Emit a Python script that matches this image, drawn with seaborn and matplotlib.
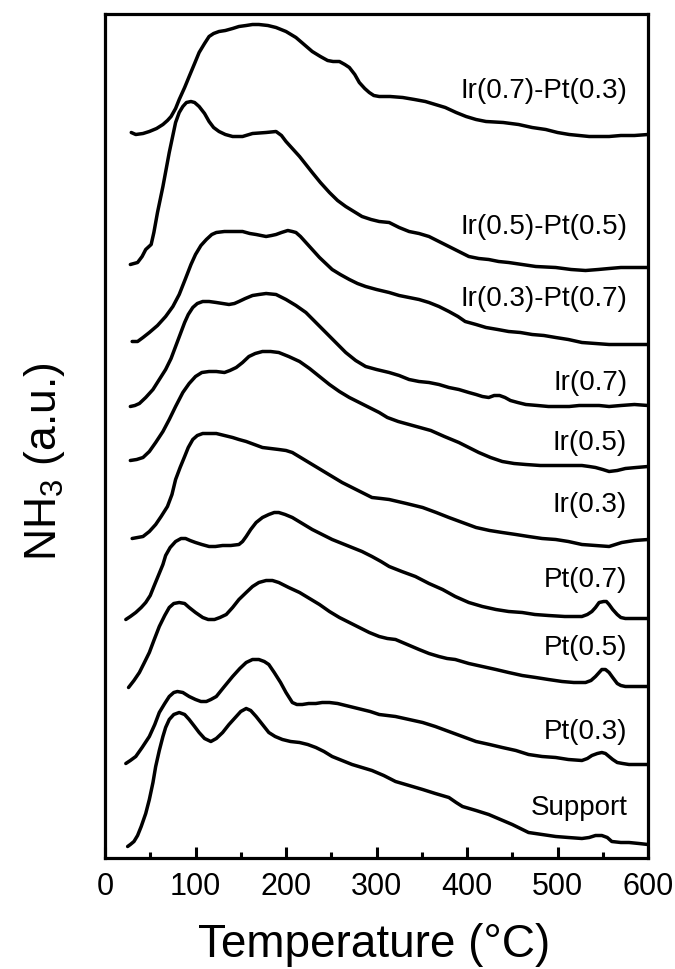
import matplotlib
matplotlib.use("Agg")
import matplotlib.pyplot as plt
import pandas as pd
import seaborn as sns
from matplotlib.ticker import MultipleLocator

# sample names, top to bottom
samples = ["Ir(0.7)-Pt(0.3)", "Ir(0.5)-Pt(0.5)", "Ir(0.3)-Pt(0.7)", "Ir(0.7)", "Ir(0.5)",
           "Ir(0.3)", "Pt(0.7)", "Pt(0.5)", "Pt(0.3)", "Support"]

# vertical offset of each trace (a.u.) and height of its label
offsets = [725, 592, 515, 454, 393, 320, 241, 173, 95, 15]
label_y = [770, 633, 562, 477, 417, 355, 280, 212, 128, 52]

# NH3-TPD traces: temperature (C) and signal (a.u.)
t_ir7pt3 = [29, 34, 42, 49, 57, 64, 69, 73, 78, 82, 88, 93, 99, 104, 110, 115, 120, 126, 133, 141,
            148, 156, 163, 170, 180, 189, 200, 211, 220, 229, 238, 246, 252, 259, 265, 270, 276,
            281, 287, 292, 297, 303, 315, 329, 342, 354, 365, 376, 388, 399, 410, 421, 440, 457,
            472, 487, 500, 513, 524, 535, 546, 557, 570, 585, 600]
s_ir7pt3 = [2, 0, 1, 3, 6, 10, 14, 18, 26, 35, 47, 58, 71, 82, 91, 98, 101, 103, 104, 106,
            108, 109, 110, 110, 109, 107, 103, 97, 90, 83, 78, 74, 73, 73, 70, 67, 60,
            52, 46, 42, 39, 38, 38, 37, 35, 33, 30, 27, 22, 18, 15, 13, 12, 10,
            7, 5, 2, 0, -1, -2, -2, -2, -1, -1, 0]

t_ir5pt5 = [28, 36, 41, 45, 51, 54, 58, 64, 71, 78, 82, 86, 90, 95, 99, 104, 110, 115, 120, 126,
            133, 141, 152, 163, 178, 189, 195, 200, 207, 215, 222, 229, 238, 248, 257, 266, 275,
            284, 294, 303, 314, 325, 336, 347, 358, 369, 380, 391, 402, 413, 424, 435, 446, 461,
            476, 498, 515, 531, 545, 557, 570, 585, 600]
s_ir5pt5 = [3, 5, 11, 18, 23, 35, 55, 81, 115, 145, 155, 161, 165, 166, 165, 161, 154, 146, 140, 136,
            133, 131, 131, 134, 135, 136, 132, 126, 119, 111, 103, 95, 85, 75, 67, 61, 56,
            51, 48, 46, 45, 40, 36, 34, 31, 26, 21, 16, 11, 9, 8, 6, 5, 3,
            1, 0, -2, -3, -2, -1, 0, 0, 0]

t_ir3pt7 = [30, 36, 42, 49, 58, 67, 75, 82, 89, 95, 100, 106, 112, 118, 123, 132, 141, 152, 160,
            167, 178, 184, 189, 195, 202, 207, 211, 216, 222, 230, 237, 244, 251, 260, 270, 279,
            288, 300, 314, 325, 336, 347, 358, 369, 380, 390, 398, 410, 421, 434, 446, 459, 472,
            485, 498, 512, 527, 542, 557, 580, 600]
s_ir3pt7 = [3, 3, 7, 12, 19, 28, 38, 50, 66, 80, 90, 99, 105, 110, 112, 113, 113, 113, 111,
            110, 108, 109, 110, 112, 114, 113, 112, 108, 102, 94, 87, 81, 75, 70, 65, 61,
            58, 55, 52, 49, 47, 45, 42, 38, 33, 28, 23, 20, 17, 15, 13, 12, 10,
            9, 7, 5, 2, 1, 0, 0, 0]

t_ir7 = [28, 33, 38, 45, 53, 60, 67, 73, 78, 83, 88, 92, 97, 102, 108, 115, 123, 130, 137, 143,
         148, 155, 163, 170, 178, 189, 200, 211, 222, 233, 244, 255, 266, 277, 288, 300, 314, 325,
         336, 347, 358, 369, 380, 391, 402, 410, 417, 424, 430, 436, 442, 448, 456, 465, 478, 490,
         502, 513, 524, 535, 546, 557, 570, 585, 600]
s_ir7 = [-1, 0, 2, 8, 16, 26, 36, 47, 59, 71, 83, 91, 98, 102, 104, 104, 103, 102, 101, 102,
         104, 107, 110, 111, 112, 111, 106, 100, 93, 83, 73, 63, 53, 45, 39, 36, 33, 30,
         26, 24, 23, 21, 18, 16, 13, 11, 9, 8, 10, 10, 8, 5, 3, 1, 0, -1,
         -1, -1, 0, 0, 0, -1, 0, 1, 0]

t_ir5 = [28, 35, 42, 49, 56, 64, 71, 78, 86, 93, 100, 107, 115, 123, 132, 138, 145, 152, 159, 166,
         174, 183, 192, 203, 215, 226, 237, 248, 259, 270, 281, 292, 303, 312, 324, 336, 348, 360,
         375, 391, 402, 413, 426, 439, 452, 465, 481, 498, 512, 527, 535, 542, 550, 557, 566, 575,
         587, 600]
s_ir5 = [6, 7, 9, 15, 24, 35, 47, 60, 74, 83, 90, 94, 95, 95, 94, 96, 99, 104, 110, 113,
         115, 115, 114, 110, 105, 98, 90, 82, 75, 69, 64, 59, 54, 49, 45, 42, 39, 36,
         30, 24, 19, 14, 9, 5, 3, 2, 1, 1, 1, 1, 0, -1, -3, -5, -4, -2,
         -1, 0]

t_ir3 = [30, 36, 42, 49, 56, 62, 69, 74, 78, 83, 88, 92, 97, 102, 108, 115, 123, 132, 141, 148,
         156, 165, 174, 183, 192, 200, 207, 218, 229, 240, 251, 262, 273, 284, 295, 305, 314, 333,
         351, 366, 380, 395, 410, 425, 439, 454, 468, 483, 498, 512, 527, 542, 557, 564, 571, 585,
         600]
s_ir3 = [1, 2, 3, 8, 15, 23, 33, 45, 60, 72, 83, 92, 100, 104, 106, 106, 106, 104, 102, 100,
         98, 95, 92, 91, 90, 89, 87, 81, 75, 69, 63, 57, 52, 47, 42, 41, 40, 36,
         32, 27, 22, 17, 12, 9, 7, 5, 3, 1, 0, -2, -5, -6, -7, -5, -3, -1,
         0]

t_pt7 = [23, 28, 34, 40, 45, 50, 54, 59, 64, 67, 72, 78, 84, 89, 94, 100, 107, 115, 122, 130, 139,
         148, 152, 156, 161, 167, 174, 181, 187, 192, 199, 207, 218, 229, 240, 251, 262, 273, 284,
         295, 305, 314, 328, 343, 358, 373, 387, 402, 417, 432, 446, 461, 475, 490, 508, 527, 533,
         538, 542, 546, 551, 554, 557, 561, 566, 570, 575, 585, 600]
s_pt7 = [-1, 2, 6, 11, 16, 23, 32, 43, 54, 63, 71, 77, 80, 80, 78, 76, 74, 72, 72, 73, 73,
         74, 77, 82, 89, 96, 101, 104, 106, 106, 104, 101, 95, 89, 84, 79, 75, 71, 67,
         62, 57, 52, 47, 42, 35, 29, 22, 16, 12, 9, 7, 6, 4, 3, 2, 2, 4,
         7, 11, 16, 17, 17, 14, 9, 4, 1, 0, 0, 0]

t_pt5 = [26, 32, 38, 43, 49, 54, 60, 66, 71, 76, 82, 88, 93, 100, 108, 114, 121, 127, 134, 141,
         148, 156, 163, 170, 178, 185, 192, 203, 215, 226, 237, 248, 259, 270, 281, 292, 303, 312,
         321, 334, 347, 358, 369, 378, 387, 402, 417, 432, 446, 461, 476, 490, 505, 518, 531, 537,
         542, 546, 549, 553, 557, 561, 566, 570, 575, 585, 600]
s_pt5 = [-1, 6, 14, 23, 34, 46, 60, 71, 79, 83, 84, 83, 79, 74, 69, 67, 67, 69, 72, 79,
         87, 94, 100, 104, 106, 106, 104, 99, 94, 88, 82, 75, 69, 64, 59, 54, 50, 48,
         47, 42, 37, 33, 30, 28, 27, 23, 20, 17, 14, 11, 9, 7, 5, 4, 4, 6,
         10, 14, 17, 17, 14, 9, 3, 1, 0, 0, 0]

t_pt3 = [23, 28, 34, 41, 49, 55, 60, 66, 71, 76, 80, 86, 93, 100, 106, 112, 117, 123, 131, 141,
         149, 156, 163, 170, 176, 181, 187, 194, 200, 207, 212, 218, 225, 233, 240, 248, 257, 266,
         275, 284, 293, 303, 312, 321, 336, 351, 365, 380, 395, 410, 425, 439, 454, 468, 483, 498,
         512, 527, 533, 538, 544, 549, 553, 557, 561, 566, 572, 579, 600]
s_pt3 = [1, 4, 8, 17, 28, 40, 52, 61, 68, 72, 73, 72, 68, 65, 63, 63, 65, 68, 77, 88,
         96, 102, 105, 105, 103, 100, 92, 82, 72, 62, 60, 60, 61, 61, 62, 62, 61, 59,
         57, 55, 53, 50, 49, 48, 45, 42, 38, 33, 28, 23, 20, 17, 14, 10, 8, 7,
         5, 4, 6, 9, 11, 12, 11, 8, 5, 2, 1, 0, 0]

t_support = [25, 28, 32, 36, 40, 45, 49, 53, 56, 60, 64, 67, 71, 76, 82, 88, 93, 99, 104, 110,
             117, 123, 130, 137, 145, 150, 156, 161, 167, 174, 181, 188, 196, 205, 215, 224, 233,
             242, 251, 262, 273, 284, 295, 308, 321, 336, 351, 365, 380, 388, 395, 410, 424, 437,
             450, 459, 468, 483, 498, 512, 527, 535, 542, 549, 555, 560, 570, 579, 590, 600]
s_support = [-2, 0, 3, 9, 18, 31, 45, 62, 78, 94, 108, 117, 125, 130, 132, 130, 125, 118, 112, 106,
             103, 106, 112, 120, 128, 133, 136, 134, 128, 120, 112, 108, 105, 103, 102, 100, 97,
             93, 88, 84, 80, 77, 74, 69, 63, 59, 55, 51, 47, 42, 38, 34, 30, 25,
             20, 16, 12, 10, 8, 7, 6, 7, 9, 9, 7, 3, 2, 2, 1, 0]

temps = [t_ir7pt3, t_ir5pt5, t_ir3pt7, t_ir7, t_ir5, t_ir3, t_pt7, t_pt5, t_pt3, t_support]
signals = [s_ir7pt3, s_ir5pt5, s_ir3pt7, s_ir7, s_ir5, s_ir3, s_pt7, s_pt5, s_pt3, s_support]

frames = []
for name, off, t, s in zip(samples, offsets, temps, signals):
    frames.append(pd.DataFrame({"sample": name, "T": t, "y": [v + off for v in s]}))
df = pd.concat(frames, ignore_index=True)

sns.set_theme(style="white")
plt.rcParams["font.family"] = ["Liberation Sans", "DejaVu Sans"]
plt.rcParams["mathtext.default"] = "regular"
plt.rcParams["text.color"] = "black"
plt.rcParams["axes.labelcolor"] = "black"
plt.rcParams["xtick.color"] = "black"

fig = plt.figure(figsize=(6.75, 9.7), dpi=100)
ax = fig.add_axes([105 / 675, 1 - 858.5 / 970, 543 / 675, 844 / 970])

sns.lineplot(data=df, x="T", y="y", units="sample", estimator=None, sort=False,
             color="black", linewidth=2.5, legend=False, ax=ax,
             solid_joinstyle="round", solid_capstyle="round")

for name, ly in zip(samples, label_y):
    ax.text(577, ly, name, ha="right", va="center", fontsize=20, color="black")

ax.set_xlim(0, 600)
ax.set_ylim(2, 846)
ax.xaxis.set_major_locator(MultipleLocator(100))
ax.xaxis.set_minor_locator(MultipleLocator(50))
ax.set_yticks([])
ax.tick_params(axis="x", which="both", direction="in", bottom=True, top=False,
               width=2.2, colors="black", labelsize=22, pad=10)
ax.tick_params(axis="x", which="major", length=8)
ax.tick_params(axis="x", which="minor", length=4)
for sp in ax.spines.values():
    sp.set_visible(True)
    sp.set_color("black")
    sp.set_linewidth(2.3)

ax.set_xlabel("Temperature (°C)", fontsize=33)
ax.set_ylabel("NH$_3$ (a.u.)", fontsize=32)
ax.xaxis.set_label_coords(0.495, -0.077)
ax.yaxis.set_label_coords(-0.07, 0.47)

fig.savefig("out.png", dpi=100)
